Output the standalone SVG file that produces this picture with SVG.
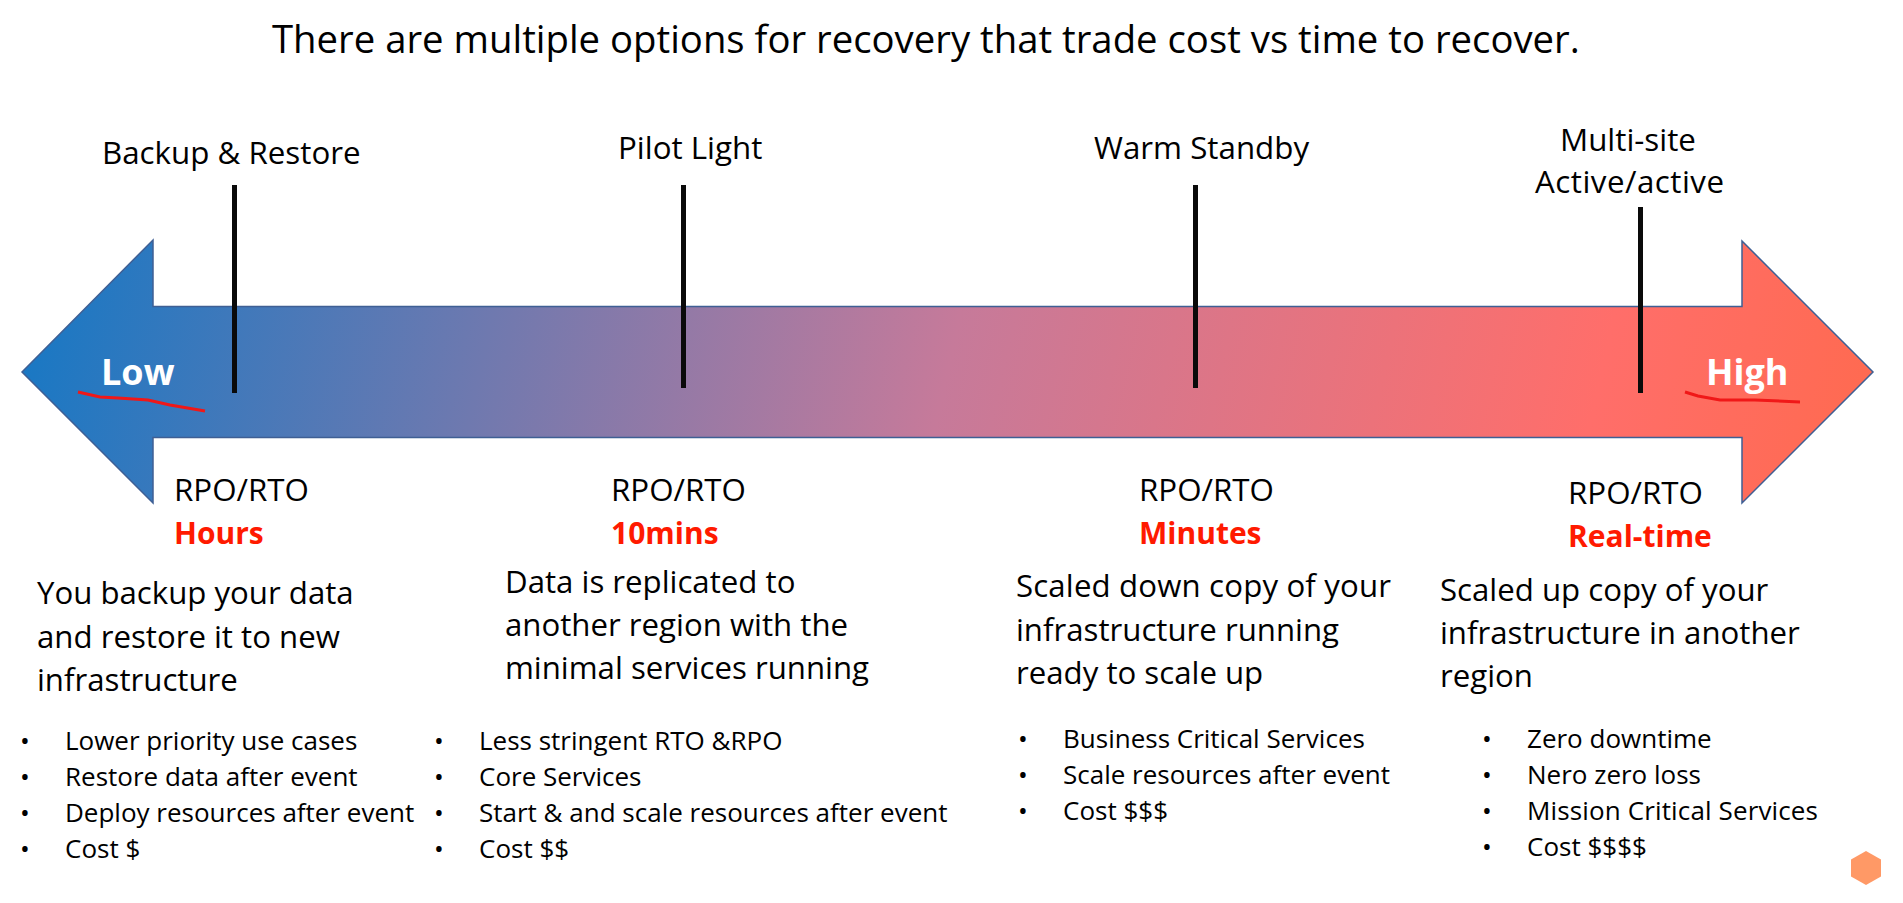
<svg xmlns="http://www.w3.org/2000/svg" width="1903" height="903" viewBox="0 0 1903 903">
<style>
text{font-family:"Open Sans","Noto Sans","Liberation Sans",sans-serif;fill:#000}
.t{font-size:31.300px}
.d{font-size:31.200px}
.b{font-size:26px}
.r{font-size:30px;font-weight:700;fill:#ff1a00}
.w{font-size:36px;font-weight:700;fill:#fff}
.tick{stroke:#0a0a0a;stroke-width:5;fill:none}
.ink{stroke:#f01818;stroke-width:3;fill:none}
</style>
<defs><linearGradient id="g" gradientUnits="userSpaceOnUse" x1="60" y1="160" x2="1840" y2="560">
<stop offset="0" stop-color="#1878c4"/><stop offset="0.5" stop-color="#c67a9a"/><stop offset="0.85" stop-color="#ff6e6a"/><stop offset="1" stop-color="#ff6a50"/></linearGradient></defs>
<rect width="1903" height="903" fill="#fff"/>
<text id="title" x="272" y="53" style="font-size:38.300px">There are multiple options for recovery that trade cost vs time to recover.</text>
<g id="arrow"><path d="M22 372L153 240V306.500H1742V241L1873 372L1742 503V437.500H153V503Z" fill="url(#g)" stroke="#3f5f94" stroke-width="1.5"/></g>
<g id="connectors">
<path class="tick" d="M234.500 185V393M683.500 185V388M1195.500 185V388M1640.500 207V393"/>
<path class="ink" d="M78 392L100 397L118 398L148 400L170 405L205 411"/>
<path class="ink" d="M1685 392L1698 396L1720 400L1755 400L1800 402"/>
</g>
<g id="low"><text class="w" x="101" y="385">Low</text></g>
<g id="high"><text class="w" x="1706" y="385">High</text></g>
<g id="backup">
<text class="t" x="102" y="164">Backup &amp; Restore</text>
<text class="t" x="174" y="501">RPO/RTO</text><text class="r" x="174" y="544">Hours</text>
<text class="d"><tspan x="37" y="604">You backup your data</tspan><tspan x="37" y="648">and restore it to new</tspan><tspan x="37" y="691">infrastructure</tspan></text>
<text class="b"><tspan x="65" y="750">Lower priority use cases</tspan><tspan x="65" y="786">Restore data after event</tspan><tspan x="65" y="822">Deploy resources after event</tspan><tspan x="65" y="858">Cost $</tspan></text>
<text class="b"><tspan x="20" y="750">•</tspan><tspan x="20" y="786">•</tspan><tspan x="20" y="822">•</tspan><tspan x="20" y="858">•</tspan></text>
</g>
<g id="pilot">
<text class="t" x="618" y="159">Pilot Light</text>
<text class="t" x="611" y="501">RPO/RTO</text><text class="r" x="611" y="544">10mins</text>
<text class="d"><tspan x="505" y="593">Data is replicated to</tspan><tspan x="505" y="636">another region with the</tspan><tspan x="505" y="679">minimal services running</tspan></text>
<text class="b"><tspan x="479" y="750">Less stringent RTO &amp;RPO</tspan><tspan x="479" y="786">Core Services</tspan><tspan x="479" y="822">Start &amp; and scale resources after event</tspan><tspan x="479" y="858">Cost $$</tspan></text>
<text class="b"><tspan x="434" y="750">•</tspan><tspan x="434" y="786">•</tspan><tspan x="434" y="822">•</tspan><tspan x="434" y="858">•</tspan></text>
</g>
<g id="warm">
<text class="t" x="1094" y="159">Warm Standby</text>
<text class="t" x="1139" y="501">RPO/RTO</text><text class="r" x="1139" y="544">Minutes</text>
<text class="d"><tspan x="1016" y="597" textLength="375">Scaled down copy of your</tspan><tspan x="1016" y="641">infrastructure running</tspan><tspan x="1016" y="684">ready to scale up</tspan></text>
<text class="b"><tspan x="1063" y="748">Business Critical Services</tspan><tspan x="1063" y="784">Scale resources after event</tspan><tspan x="1063" y="820">Cost $$$</tspan></text>
<text class="b"><tspan x="1018" y="748">•</tspan><tspan x="1018" y="784">•</tspan><tspan x="1018" y="820">•</tspan></text>
</g>
<g id="multi">
<text class="t" x="1560" y="151">Multi-site</text><text class="t" x="1535" y="193" textLength="189">Active/active</text>
<text class="t" x="1568" y="504">RPO/RTO</text><text class="r" x="1568" y="547">Real-time</text>
<text class="d"><tspan x="1440" y="601">Scaled up copy of your</tspan><tspan x="1440" y="644">infrastructure in another</tspan><tspan x="1440" y="687">region</tspan></text>
<text class="b"><tspan x="1527" y="748">Zero downtime</tspan><tspan x="1527" y="784">Nero zero loss</tspan><tspan x="1527" y="820" textLength="291">Mission Critical Services</tspan><tspan x="1527" y="856">Cost $$$$</tspan></text>
<text class="b"><tspan x="1482" y="748">•</tspan><tspan x="1482" y="784">•</tspan><tspan x="1482" y="820">•</tspan><tspan x="1482" y="856">•</tspan></text>
</g>
<g id="logo"><path d="M1866 851L1881 859.500V876.500L1866 885L1851 876.500V859.500Z" fill="#ff9966"/></g>
</svg>
